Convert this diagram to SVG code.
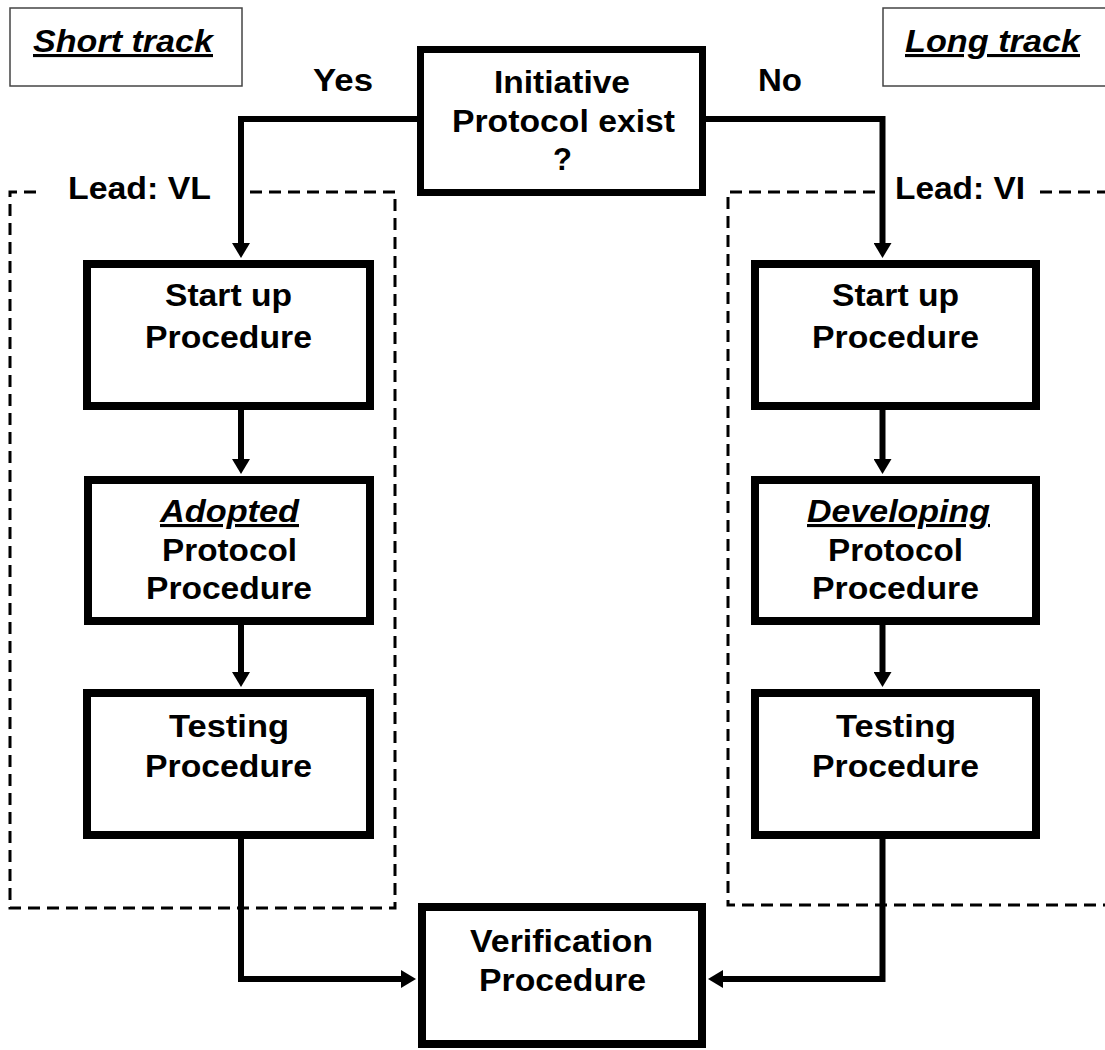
<svg xmlns="http://www.w3.org/2000/svg" width="1105" height="1050" viewBox="0 0 1105 1050">
<style>
text{font-family:"Liberation Sans",Arial,sans-serif;font-weight:bold;font-size:31px;fill:#000}
.c{text-anchor:middle}
.it{font-style:italic;text-decoration:underline}
.box{fill:#fff;stroke:#000;stroke-width:8}
.tag{fill:#fff;stroke:#444;stroke-width:1.5}
.dash{fill:none;stroke:#000;stroke-width:3;stroke-dasharray:12 7}
.con{fill:none;stroke:#000;stroke-width:6}
</style>
<defs>
<marker id="ah" markerUnits="userSpaceOnUse" markerWidth="15" markerHeight="18" refX="1" refY="9" orient="auto">
<path d="M0,0 L15,9 L0,18 z" fill="#000"/>
</marker>
</defs>
<rect width="1105" height="1050" fill="#fff"/>
<g id="short-track">
<rect class="tag" x="10" y="8" width="232" height="78"/>
<text class="it" x="33" y="52" textLength="180" lengthAdjust="spacingAndGlyphs">Short track</text>
</g>
<g id="long-track">
<rect class="tag" x="883" y="8" width="240" height="78"/>
<text class="it" x="905" y="52" textLength="175" lengthAdjust="spacingAndGlyphs">Long track</text>
</g>
<g id="lead-vl">
<path class="dash" d="M36,192 H10 V908 H395 V192 H245"/>
<text x="68" y="199" textLength="143" lengthAdjust="spacingAndGlyphs">Lead: VL</text>
</g>
<g id="lead-vi">
<path class="dash" d="M875,192 H728 V905 H1110"/>
<path class="dash" d="M1040,192 H1110"/>
<text x="895" y="199" textLength="130" lengthAdjust="spacingAndGlyphs">Lead: VI</text>
</g>
<g id="connectors">
<path class="con" d="M420,119 H241 V244" marker-end="url(#ah)"/>
<path class="con" d="M703,119 H882.5 V244" marker-end="url(#ah)"/>
<path class="con" d="M241,410 V460" marker-end="url(#ah)"/>
<path class="con" d="M241,625 V673" marker-end="url(#ah)"/>
<path class="con" d="M241,839 V979 H402" marker-end="url(#ah)"/>
<path class="con" d="M882.5,410 V460" marker-end="url(#ah)"/>
<path class="con" d="M882.5,625 V673" marker-end="url(#ah)"/>
<path class="con" d="M882.5,839 V979 H722" marker-end="url(#ah)"/>
<text class="c" x="343" y="91" textLength="60" lengthAdjust="spacingAndGlyphs">Yes</text>
<text class="c" x="780" y="91" textLength="44" lengthAdjust="spacingAndGlyphs">No</text>
</g>
<g id="initiative">
<rect class="box" x="420.5" y="49.5" width="282" height="143" style="stroke-width:7"/>
<text class="c" x="562" y="93" textLength="136" lengthAdjust="spacingAndGlyphs">Initiative</text>
<text class="c" x="563.5" y="132" textLength="223" lengthAdjust="spacingAndGlyphs">Protocol exist</text>
<text class="c" x="562.5" y="170">?</text>
</g>
<g id="startup-left">
<rect class="box" x="87" y="264" width="283" height="142"/>
<text class="c" x="228.5" y="306" textLength="127" lengthAdjust="spacingAndGlyphs">Start up</text>
<text class="c" x="228.5" y="348" textLength="167" lengthAdjust="spacingAndGlyphs">Procedure</text>
</g>
<g id="adopted">
<rect class="box" x="88" y="480" width="282" height="141"/>
<text class="c it" x="229.5" y="522" textLength="139" lengthAdjust="spacingAndGlyphs">Adopted</text>
<text class="c" x="229.5" y="561" textLength="135" lengthAdjust="spacingAndGlyphs">Protocol</text>
<text class="c" x="229" y="599" textLength="166" lengthAdjust="spacingAndGlyphs">Procedure</text>
</g>
<g id="testing-left">
<rect class="box" x="87" y="693" width="283" height="142"/>
<text class="c" x="229" y="737" textLength="120" lengthAdjust="spacingAndGlyphs">Testing</text>
<text class="c" x="228.5" y="777" textLength="167" lengthAdjust="spacingAndGlyphs">Procedure</text>
</g>
<g id="startup-right">
<rect class="box" x="755" y="264" width="281" height="142"/>
<text class="c" x="895.5" y="306" textLength="127" lengthAdjust="spacingAndGlyphs">Start up</text>
<text class="c" x="895.5" y="348" textLength="167" lengthAdjust="spacingAndGlyphs">Procedure</text>
</g>
<g id="developing">
<rect class="box" x="755" y="480" width="281" height="141"/>
<text class="c it" x="898.5" y="522" textLength="183" lengthAdjust="spacingAndGlyphs">Developing</text>
<text class="c" x="895.5" y="561" textLength="135" lengthAdjust="spacingAndGlyphs">Protocol</text>
<text class="c" x="895.5" y="599" textLength="167" lengthAdjust="spacingAndGlyphs">Procedure</text>
</g>
<g id="testing-right">
<rect class="box" x="755" y="693" width="281" height="142"/>
<text class="c" x="896" y="737" textLength="120" lengthAdjust="spacingAndGlyphs">Testing</text>
<text class="c" x="895.5" y="777" textLength="167" lengthAdjust="spacingAndGlyphs">Procedure</text>
</g>
<g id="verification">
<rect class="box" x="422" y="907" width="280" height="137"/>
<text class="c" x="561.5" y="952" textLength="183" lengthAdjust="spacingAndGlyphs">Verification</text>
<text class="c" x="562.5" y="991" textLength="167" lengthAdjust="spacingAndGlyphs">Procedure</text>
</g>
</svg>
